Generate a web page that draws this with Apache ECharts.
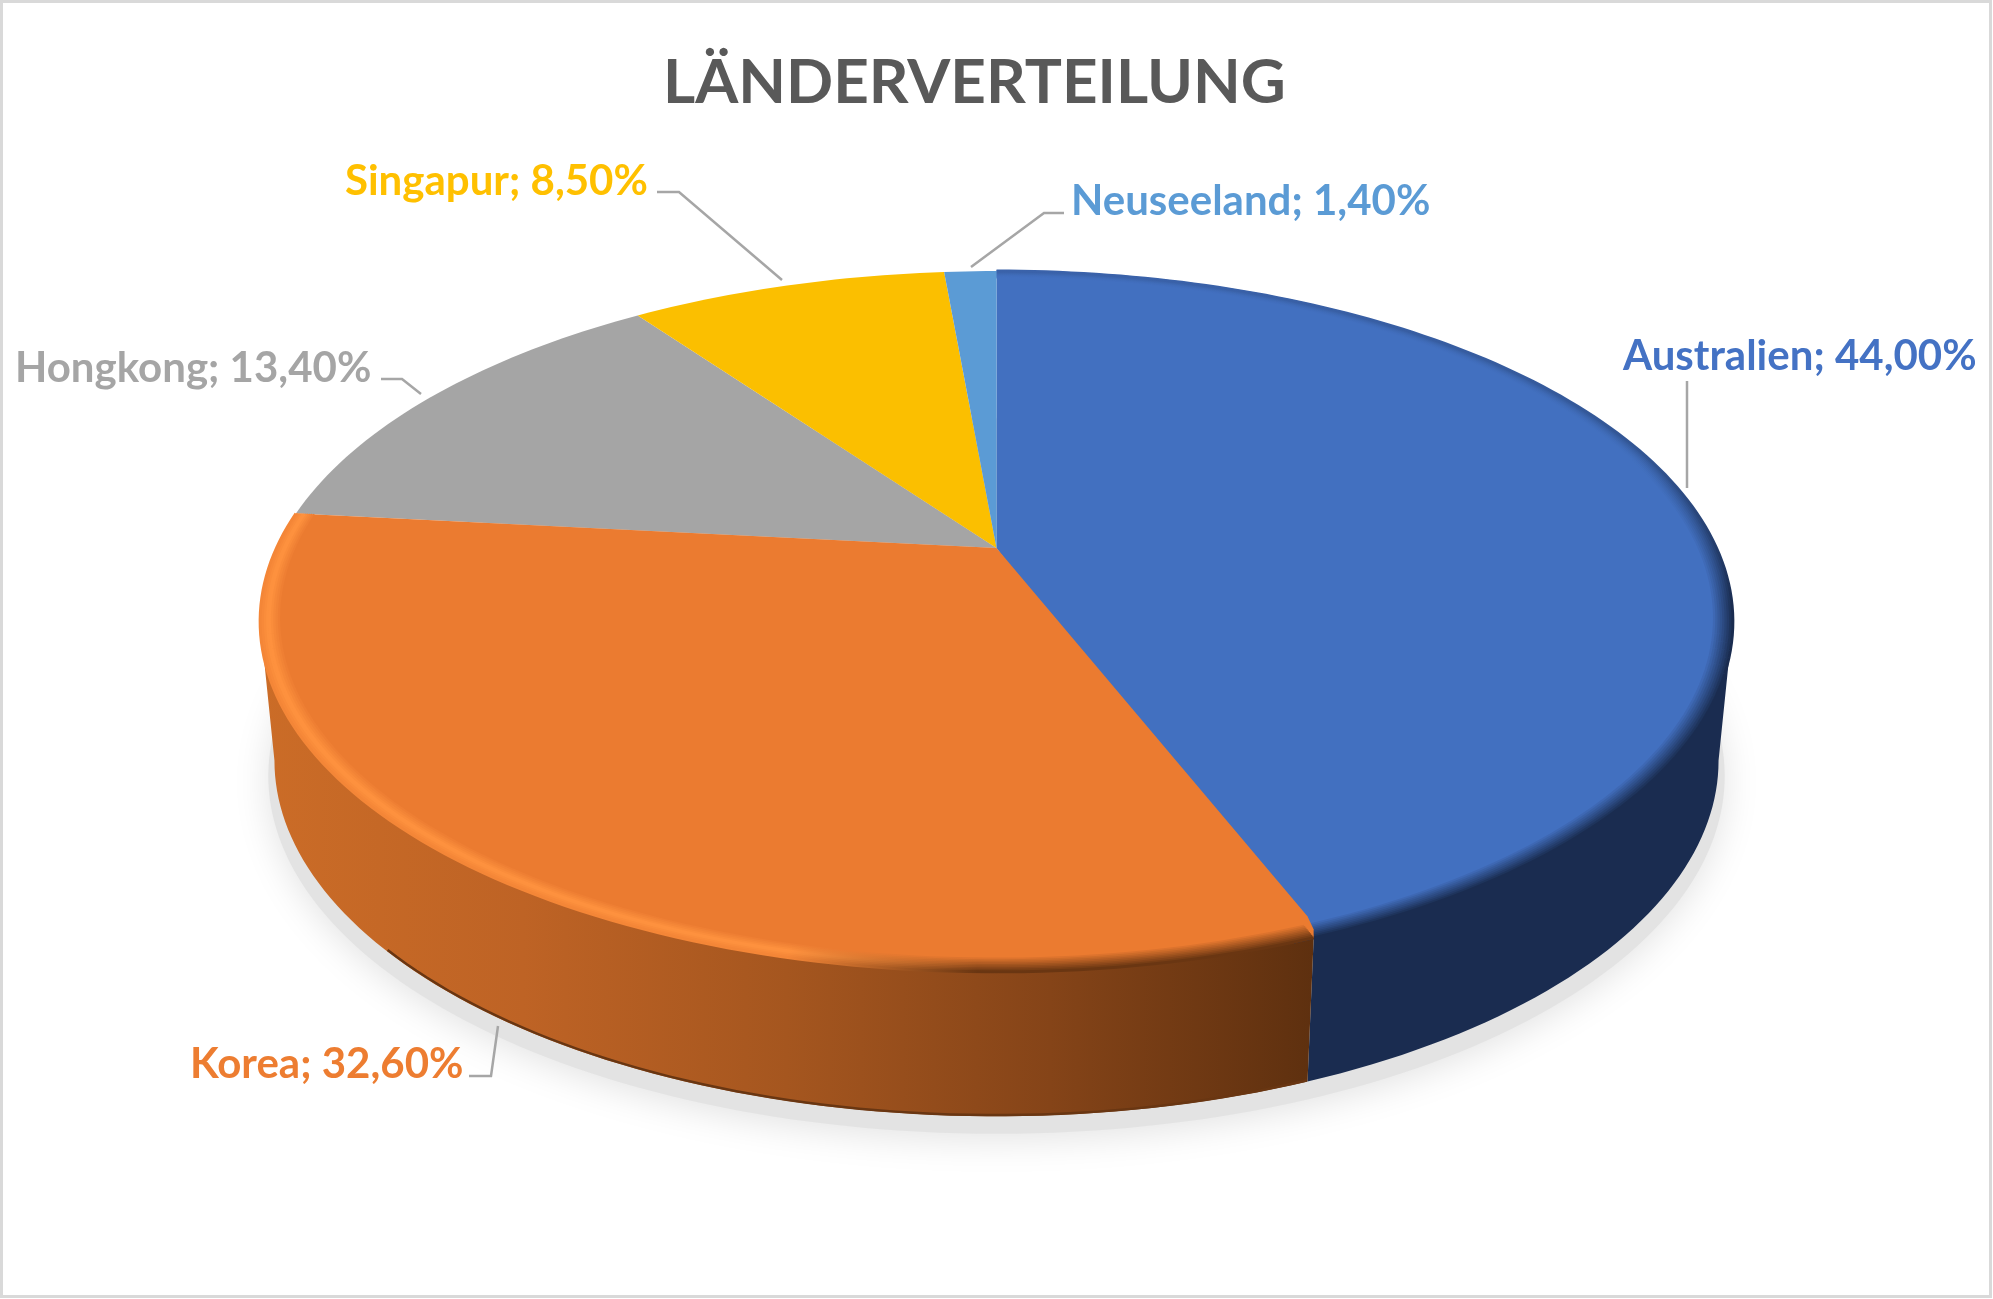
<!DOCTYPE html>
<html><head><meta charset="utf-8">
<style>html,body{margin:0;padding:0;background:#fff}#c{width:1993px;height:1299px}</style>
<script src="https://cdn.jsdelivr.net/npm/echarts@6/dist/echarts.min.js"></script>
</head><body><div id="c"></div>
<script>
const titleText = 'LÄNDERVERTEILUNG';
const categories = ['Australien','Korea','Hongkong','Singapur','Neuseeland'];
const shares = [44.0,32.6,13.4,8.5,1.4];
const faceColors = ['#4270C0','#EB7B30','#A5A5A5','#FBBF00','#5B9BD5'];
const textColors = ['#4472C4','#ED7D31','#A5A5A5','#FFC000','#5B9BD5'];

// layout of the labels: left x, baseline y, leader polyline
const labelLayout = [
  {x:1623,y:368,line:[[1687,381],[1687,488]]},
  {x:190,y:1076,line:[[469,1076],[491,1076],[498,1026]]},
  {x:15,y:380,line:[[381,379],[402,379],[421,394]]},
  {x:345,y:193,line:[[657,192],[679,192],[782,280]]},
  {x:1071,y:213,line:[[1064,213],[1044,213],[971,267]]}
];
const LABEL_FONT = 'bold 42px Lato';

// perspective disc projection
const top3d = {cx:996.5,y0:548,A:720,B:335,k:0.2097};
const bot3d = {cx:996.5,y0:686,A:706,B:340,k:0.2097};
const shadow3d = {cx:996.5,y0:701,A:712,B:342,k:0.2097};
const FOLD_RIGHT = Math.acos(-top3d.k)*180/Math.PI;
const FOLD_LEFT = 360-FOLD_RIGHT;
const SEAM = 0.7;
function proj(p,deg,r){
  const t=deg*Math.PI/180,u=r*Math.sin(t),v=r*Math.cos(t),w=1+p.k*v;
  return [p.cx+p.A*u/w,p.y0-p.B*v/w];
}
function arc(p,a,b,r){
  const n=Math.max(2,Math.ceil(Math.abs(b-a)/1.2)),o=[];
  for(let i=0;i<=n;i++)o.push(proj(p,a+(b-a)*i/n,r));
  return o;
}
const total=shares.reduce((s,v)=>s+v,0);
function range(i){
  let s=0;for(let j=0;j<i;j++)s+=shares[j];
  return [s/total*360,(s+shares[i])/total*360];
}
const hex=c=>[1,3,5].map(i=>parseInt(c.substr(i,2),16));
const mix=(a,b,t)=>{const A=hex(a),B=hex(b);return 'rgb('+A.map((v,i)=>Math.round(v+(B[i]-v)*t)).join(',')+')'};
const lin=(x2,y2,stops)=>({type:'linear',x:0,y:0,x2,y2,colorStops:stops.map(s=>({offset:s[0],color:s[1]}))});

const sideFill=[ '#1A2C50',
  lin(1,0,[[0,'#CB6C27'],[0.25,'#BE6325'],[0.5,'#A5561F'],[0.75,'#854418'],[1,'#5E300F']]),
  '#8a8a8a','#c79800','#4a7fb0'];

const BEVEL_R=[1,0.997,0.994,0.991,0.988,0.985,0.982,0.979,0.976,0.973];
function bevelStroke(i,t){
  if(i===0){
    const f=faceColors[0],d='#1A2C50';
    return lin(0,1,[[0,mix(f,d,t*t*0.2)],[0.28,mix(f,d,t*t*0.4)],[0.5,mix(f,d,t)],[1,mix(f,d,t)]]);
  }
  const f=faceColors[1];
  const h=t<0.6?t/0.6:1-(t-0.6)/0.4*0.55;
  const bright=mix(f,'#FF933F',h);
  const d=mix(f,'#6a3612',t);
  return lin(1,0,[[0,bright],[0.5,bright],[0.68,d],[1,d]]);
}

const rowsOf=ids=>ids.map(i=>({name:categories[i],value:shares[i]}));
function faceSeries(name,ids,z){
  return {type:'custom',name,coordinateSystem:'none',silent:true,z,data:rowsOf(ids),
   renderItem(p){
     const i=ids[p.dataIndex];let [a,b]=range(i);
     const apex=[top3d.cx,top3d.y0];
     const kids=[];
     if(i===1){
       const pts=[apex,proj(top3d,a,0.96),proj(top3d,a+SEAM*0.4,0.985)].concat(arc(top3d,a+SEAM,b,1));
       kids.push({type:'polygon',shape:{points:pts},style:{fill:faceColors[i]}});
     } else {
       kids.push({type:'polygon',shape:{points:[apex].concat(arc(top3d,a,i===0?b+SEAM*3:b,1))},style:{fill:faceColors[i]}});
     }
     if(i<=1){
       const s=i===1?a+SEAM:a,e=i===0?b+SEAM*3:b,n=BEVEL_R.length;
       for(let j=n-1;j>=0;j--){
         const t=1-j/(n-1);
         kids.push({type:'polyline',shape:{points:arc(top3d,s,e,BEVEL_R[j])},
           style:{fill:null,stroke:bevelStroke(i,t),lineWidth:3,lineCap:'butt'}});
       }
     }
     return {type:'group',children:kids};
   }};
}
const series=[
  {type:'custom',name:'Schatten',coordinateSystem:'none',silent:true,z:1,data:[0],
   renderItem(){return {type:'polygon',shape:{points:arc(shadow3d,0,360,1)},
     style:{fill:'#E3E3E3',shadowColor:'#E3E3E3',shadowBlur:36,shadowOffsetY:6}}}},
  {type:'custom',name:'Seiten',coordinateSystem:'none',silent:true,z:2,data:rowsOf([0,1]),
   renderItem(p){
     const i=p.dataIndex;let [a,b]=range(i);
     if(i===0){a=Math.max(a,FOLD_RIGHT);b+=SEAM;}
     if(i===1){a+=SEAM;b=Math.min(b,FOLD_LEFT);}
     const pts=arc(top3d,a,b,1).concat(arc(bot3d,a,b,1).reverse());
     const kids=[{type:'polygon',shape:{points:pts},style:{fill:sideFill[i]}}];
     if(i===1)kids.push({type:'polyline',shape:{points:arc(bot3d,a,228,0.998)},style:{fill:null,stroke:'#693612',lineWidth:2.5}});
     return {type:'group',children:kids};
   }},
  faceSeries('Flaechen',[0,2,3,4],3),
  faceSeries('Korea-Flaeche',[1],4),
  {type:'custom',name:'Beschriftung',coordinateSystem:'none',silent:true,z:5,data:rowsOf([0,1,2,3,4]),
   renderItem(p){
     const i=p.dataIndex,L=labelLayout[i];
     const text=categories[i]+'; '+shares[i].toFixed(2).replace('.',',')+'%';
     return {type:'group',children:[
       {type:'polyline',shape:{points:L.line},style:{fill:null,stroke:'#A6A6A6',lineWidth:2.5}},
       {type:'text',style:{text,x:L.x,y:L.y-12,fill:textColors[i],font:LABEL_FONT,align:'left',verticalAlign:'middle'}}
     ]};
   }}
];
const chart=echarts.init(document.getElementById('c'),null,{width:1993,height:1299});
chart.setOption({
  animation:false,backgroundColor:'#fff',
  title:{text:titleText,left:658,top:47,
    textStyle:{fontFamily:'Lato',fontWeight:'bold',fontSize:62,color:'#595959'}},
  graphic:[{type:'rect',z:100,silent:true,shape:{x:1.5,y:1.5,width:1989,height:1295},style:{fill:null,stroke:'#D9D9D9',lineWidth:3}}],
  series
});
</script></body></html>
